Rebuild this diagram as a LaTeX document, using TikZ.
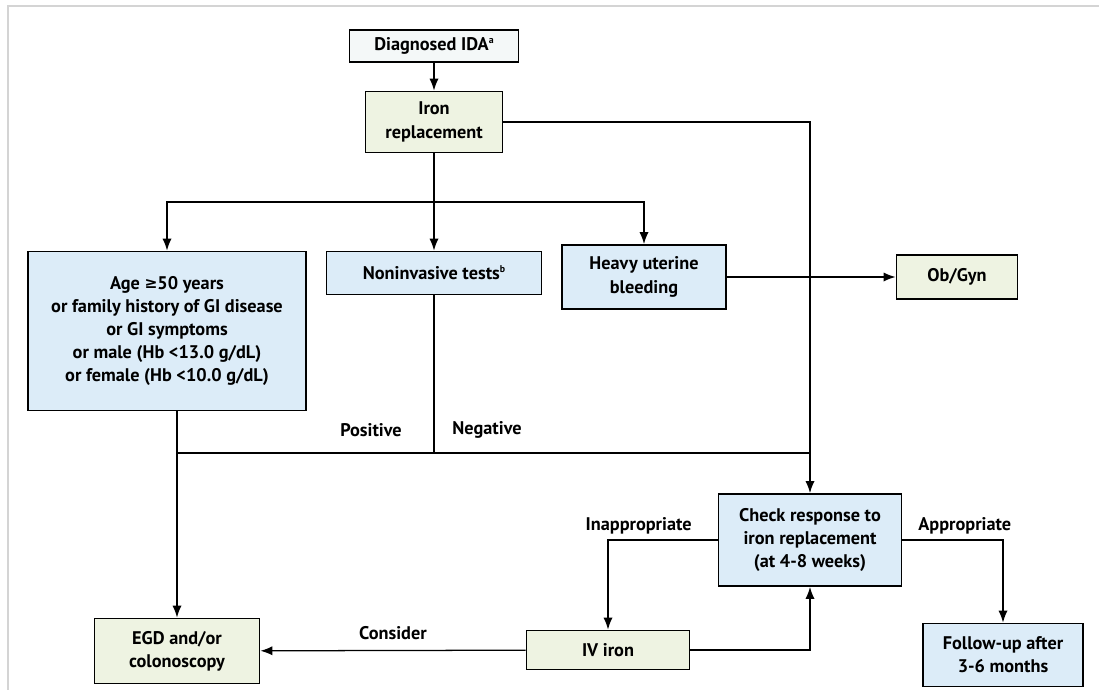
\documentclass[tikz,border=0pt]{standalone}
\usepackage{fontspec}
\setmainfont{PT Sans}
\usepackage{tikz}
\usetikzlibrary{arrows.meta}
\usepackage{xcolor}
\definecolor{idablue}{RGB}{220,236,248}
\definecolor{idagreen}{RGB}{238,243,226}
\definecolor{idawhite}{RGB}{244,248,248}
\definecolor{idaframe}{RGB}{212,212,212}
\tikzstyle{arrow} = [line width=0.9pt,-{Latex[length=3mm,width=2.3mm]}]
\tikzstyle{line} = [line width=0.9pt]
\newcommand{\idasup}[1]{\raisebox{0.8ex}{\fontsize{7}{8}\selectfont #1}}

\begin{document}
\begin{tikzpicture}[x=0.025cm, y=-0.025cm,
    box/.style={rectangle, draw=black, line width=1.3pt, align=center, inner sep=2pt, font=\fontsize{13}{16.5}\selectfont\bfseries},
    bluebox/.style={box, fill=idablue},
    greenbox/.style={box, fill=idagreen},
    lbl/.style={font=\fontsize{13}{16.5}\selectfont\bfseries, inner sep=1pt}]

\useasboundingbox (0,0) rectangle (1099,690);
\draw[idaframe, line width=1.5pt] (8,690) -- (8,6) -- (1099,6);

% Start
\node[box, fill=idawhite, minimum width=4.225cm, minimum height=0.8cm] (dx) at (434,46) {Diagnosed IDA\idasup{a}};
\node[greenbox, minimum width=3.425cm, minimum height=1.525cm] (iron) at (434,122) {Iron\\replacement};

% Main branches
\node[bluebox, minimum width=6.95cm, minimum height=3.975cm] (age) at (167,331) {Age \raisebox{0.1ex}{\fontspec{DejaVu Sans}\fontsize{11}{13}\selectfont ≥}50 years\\or family history of GI disease\\or GI symptoms\\or male (Hb <13.0 g/dL)\\or female (Hb <10.0 g/dL)};
\node[bluebox, minimum width=5.375cm, minimum height=1.075cm] (noninv) at (434,273) {Noninvasive tests\idasup{b}};
\node[bluebox, minimum width=4.1cm, minimum height=1.6cm] (heavy) at (644,277) {Heavy uterine\\bleeding};
\node[greenbox, minimum width=3.025cm, minimum height=1.1cm] (obgyn) at (957,277) {Ob/Gyn};

% Response check
\node[bluebox, minimum width=4.575cm, minimum height=2.3cm] (check) at (810,540) {Check response to\\iron replacement\\(at 4-8 weeks)};
\node[greenbox, minimum width=4.075cm, minimum height=0.975cm] (iviron) at (608,650) {IV iron};
\node[bluebox, minimum width=4.0cm, minimum height=1.575cm] (follow) at (1003,655) {Follow-up after\\3-6 months};
\node[greenbox, minimum width=4.125cm, minimum height=1.625cm] (egd) at (177,651) {EGD and/or\\colonoscopy};

\coordinate (split) at (434,202);
\coordinate (join) at (434,453);

% Connect
\draw[arrow] (dx) -- (iron);
\draw[line] (iron) -- (split);
\draw[arrow] (split) -| (age.north);
\draw[arrow] (split) -- (noninv);
\draw[arrow] (split) -| (heavy.north);
\draw[arrow] (heavy) -- (obgyn);
\draw[arrow] (iron.east) -| (check.north);
\draw[line] (noninv) -- (join);
\draw[line] (egd.north |- join) -- (check.north |- join);
\draw[arrow] (egd.north |- age.south) -- (egd);
\draw[arrow] (check.west) -| node[lbl, above=3pt, pos=0.36] {Inappropriate} (iviron.north);
\draw[arrow] (check.east) -| node[lbl, above=3pt, pos=0.31] {Appropriate} (follow.north);
\draw[arrow] (iviron.east) -| (check.south);
\draw[arrow] (iviron) -- node[lbl, above=6pt, pos=0.5] {Consider} (egd);

% Test results
\node[lbl] (pos) at (371,430) {Positive};
\node[lbl] (neg) at (487,430) {Negative};

\end{tikzpicture}
\end{document}
